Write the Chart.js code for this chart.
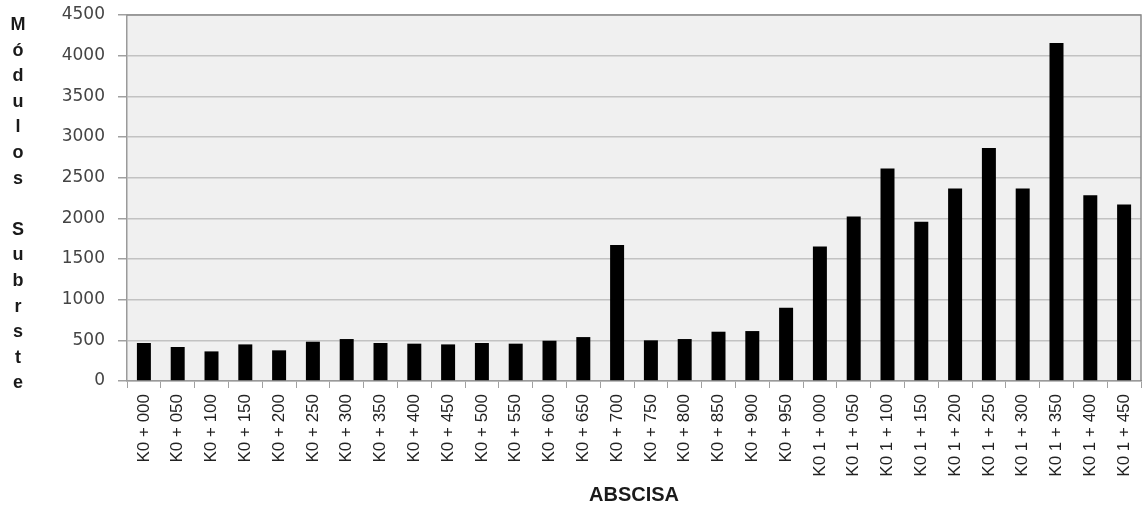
<!DOCTYPE html>
<html>
<head>
<meta charset="utf-8">
<script src="https://cdn.jsdelivr.net/npm/chart.js@4"></script>
<style>
  html, body { margin: 0; padding: 0; background: #fff; }
  #wrap { width: 1142px; height: 510px; }
</style>
</head>
<body>
<div id="wrap"><canvas id="chart" width="1142" height="510"></canvas></div>
<script>
// station labels (abscisa)
const abscisas = [
  'K0 + 000', 'K0 + 050', 'K0 + 100', 'K0 + 150', 'K0 + 200', 'K0 + 250',
  'K0 + 300', 'K0 + 350', 'K0 + 400', 'K0 + 450', 'K0 + 500', 'K0 + 550',
  'K0 + 600', 'K0 + 650', 'K0 + 700', 'K0 + 750', 'K0 + 800', 'K0 + 850',
  'K0 + 900', 'K0 + 950', 'K0 1 + 000', 'K0 1 + 050', 'K0 1 + 100', 'K0 1 + 150',
  'K0 1 + 200', 'K0 1 + 250', 'K0 1 + 300', 'K0 1 + 350', 'K0 1 + 400', 'K0 1 + 450'
]

// modulos de subrasante
const modulos = [
  467, 418, 364, 450, 377, 483, 516, 467, 459, 450, 467, 459,
  495, 540, 1671, 500, 516, 606, 614, 901, 1654, 2023, 2612, 1957,
  2367, 2866, 2367, 4156, 2285, 2170
]

const yMin = 0
const yMax = 4500
const yStep = 500

// the vertical axis title is written one letter per line
const yTitleLetters = ['M', 'ó', 'd', 'u', 'l', 'o', 's', '', 'S', 'u', 'b', 'r', 's', 't', 'e']
const xTitle = 'ABSCISA'

const plotFrame = {
  id: 'plotFrame',
  beforeDraw(chart) {
    const { ctx, chartArea: a } = chart
    ctx.save()
    ctx.fillStyle = '#f0f0f0'
    ctx.fillRect(a.left, a.top, a.right - a.left, a.bottom - a.top)
    ctx.restore()
  },
  afterDraw(chart) {
    const { ctx, chartArea: a } = chart
    ctx.save()
    ctx.strokeStyle = '#8a8a8a'
    ctx.lineWidth = 1.5
    ctx.beginPath()
    ctx.moveTo(a.left, a.top)
    ctx.lineTo(a.right, a.top)
    ctx.lineTo(a.right, a.bottom)
    ctx.stroke()

    // stacked y title
    ctx.fillStyle = '#1a1a1a'
    ctx.font = 'bold 18px "Liberation Sans", Arial, sans-serif'
    ctx.textAlign = 'center'
    ctx.textBaseline = 'middle'
    yTitleLetters.forEach((ch, i) => {
      ctx.fillText(ch, 18, 25 + i * 25.6)
    })
    ctx.restore()
  }
}

const ctx = document.getElementById('chart').getContext('2d')

const myChart = new Chart(ctx, {
  type: 'bar',
  data: {
    labels: abscisas,
    datasets: [
      {
        label: 'Modulos',
        data: modulos,
        backgroundColor: '#000000',
        borderWidth: 0,
        barPercentage: 0.414,
        categoryPercentage: 1.0
      }
    ]
  },
  options: {
    responsive: false,
    animation: false,
    layout: {
      padding: { top: 15, right: 1, bottom: 0, left: 0 }
    },
    plugins: {
      legend: { display: false },
      tooltip: { enabled: false }
    },
    scales: {
      x: {
        grid: {
          offset: true,
          drawOnChartArea: false,
          drawTicks: true,
          tickLength: 7,
          color: '#a0a0a0'
        },
        border: { color: '#9a9a9a', width: 1.5 },
        ticks: {
          autoSkip: false,
          maxRotation: 90,
          minRotation: 90,
          padding: 6,
          color: '#222',
          font: { family: '"Liberation Sans", Arial, sans-serif', size: 17 }
        },
        title: {
          display: true,
          text: xTitle,
          color: '#1a1a1a',
          padding: { top: 4, bottom: 3 },
          font: { family: '"Liberation Sans", Arial, sans-serif', size: 20, weight: 'bold' }
        },
        afterFit(scale) {
          scale.height = 129
          scale.paddingLeft = 0
          scale.paddingRight = 0
        }
      },
      y: {
        min: yMin,
        max: yMax,
        ticks: {
          stepSize: yStep,
          padding: 13,
          color: '#444',
          font: { family: '"DejaVu Sans", sans-serif', size: 17 },
          callback: (v) => String(v)
        },
        grid: {
          color: '#c2c2c2',
          lineWidth: 1.5,
          tickLength: 9,
          tickColor: '#a0a0a0'
        },
        border: { color: '#9a9a9a', width: 1.5 },
        afterFit(scale) {
          scale.width = 127
          scale.paddingTop = 0
          scale.paddingBottom = 0
        }
      }
    }
  },
  plugins: [plotFrame]
})
</script>
</body>
</html>
